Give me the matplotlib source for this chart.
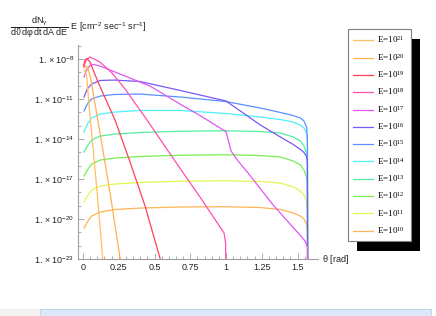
import numpy as np
import matplotlib
matplotlib.use('Agg')
import matplotlib.pyplot as plt
from matplotlib.patches import Rectangle
from matplotlib.font_manager import FontProperties
from matplotlib.ticker import FixedLocator, FixedFormatter, NullFormatter

plt.rcParams['font.family'] = ['Liberation Sans', 'DejaVu Sans']
plt.rcParams['mathtext.fontset'] = 'custom'
plt.rcParams['mathtext.rm'] = 'Liberation Sans'
plt.rcParams['mathtext.it'] = 'Liberation Sans:italic'
plt.rcParams['mathtext.default'] = 'regular'

# log10 of the flux; theta in rad
theta_lo = [0.007, 0.03, 0.06, 0.12, 0.22, 0.4, 0.68, 1.0, 1.24, 1.38, 1.47,
            1.52, 1.545, 1.563, 1.569, 1.5707]
lf_e10 = [-20.68, -20.23, -19.78, -19.48, -19.29, -19.18, -19.10, -19.08, -19.14,
          -19.29, -19.55, -19.78, -20.0, -20.38, -20.9, -26]
lf_e11 = [-18.73, -18.28, -17.83, -17.53, -17.38, -17.26, -17.17, -17.13, -17.19,
          -17.3, -17.6, -17.9, -18.2, -18.65, -19.33, -26]
lf_e12 = [-16.78, -16.33, -15.88, -15.58, -15.43, -15.31, -15.22, -15.18, -15.24,
          -15.35, -15.65, -15.95, -16.33, -16.85, -17.53, -26]
lf_e13 = [-14.98, -14.53, -14.08, -13.78, -13.63, -13.51, -13.42, -13.38, -13.44,
          -13.55, -13.85, -14.15, -14.53, -15.05, -15.8, -26]
lf_e14 = [-13.48, -12.88, -12.43, -12.13, -11.98, -11.86, -11.86, -12.09, -12.35,
          -12.54, -12.73, -12.95, -13.18, -13.55, -14.23, -26]
lf_e15 = [-11.9, -11.38, -11.0, -10.78, -10.66, -10.63, -10.85, -11.19, -11.68,
          -12.01, -12.24, -12.43, -12.65, -13.1, -13.93, -26]

theta_e16 = [0.007, 0.03, 0.06, 0.12, 0.22, 0.4, 0.68, 1.0, 1.1, 1.24, 1.38, 1.47,
             1.52, 1.545, 1.563, 1.569, 1.5707]
lf_e16 = [-10.85, -10.25, -9.88, -9.61, -9.58, -9.69, -10.36, -11.15, -11.9, -12.95,
          -13.85, -14.41, -14.79, -15.01, -15.31, -15.73, -26]

theta_e17 = [0.007, 0.028, 0.049, 0.077, 0.119, 0.259, 0.469, 0.678, 0.818, 1.0,
             1.035, 1.084, 1.154, 1.329, 1.448, 1.517, 1.552, 1.570, 1.5707]
lf_e17 = [-9.35, -8.75, -8.49, -8.41, -8.53, -9.13, -10.03, -11.38, -12.24, -13.45,
          -14.9, -15.65, -16.55, -18.95, -20.38, -21.2, -21.65, -22.1, -26]

theta_e18 = [0.007, 0.021, 0.049, 0.119, 0.203, 0.294, 0.448, 0.629, 0.818, 0.986,
             0.997, 1.0]
lf_e18 = [-8.53, -8.08, -7.85, -8.23, -9.05, -10.25, -12.58, -15.43, -18.35, -21.05,
          -21.8, -26]

theta_e19 = [0.0035, 0.014, 0.028, 0.049, 0.105, 0.224, 0.329, 0.434, 0.538, 0.552]
lf_e19 = [-8.53, -8.08, -7.96, -8.23, -9.73, -12.58, -15.73, -19.03, -22.93, -23.5]

theta_e20 = [0.007, 0.021, 0.035, 0.056, 0.084, 0.133, 0.189, 0.259, 0.27]
lf_e20 = [-8.68, -8.53, -8.68, -9.58, -11.38, -14.45, -18.05, -22.93, -23.53]

theta_e21 = [0.007, 0.0175, 0.028, 0.042, 0.063, 0.091, 0.112, 0.133, 0.138]
lf_e21 = [-8.9, -8.83, -9.58, -11.45, -13.85, -17.08, -19.63, -22.33, -23.1]

exponents = [10, 11, 12, 13, 14, 15, 16, 17, 18, 19, 20, 21]
curves = [(theta_lo, lf_e10), (theta_lo, lf_e11), (theta_lo, lf_e12),
          (theta_lo, lf_e13), (theta_lo, lf_e14), (theta_lo, lf_e15),
          (theta_e16, lf_e16), (theta_e17, lf_e17), (theta_e18, lf_e18),
          (theta_e19, lf_e19), (theta_e20, lf_e20), (theta_e21, lf_e21)]
colors = ['#ffb458', '#e6f550', '#78f050', '#50f09a', '#50f0f8', '#5a90ff',
          '#7858f8', '#e058f0', '#ff50b0', '#ff4058', '#ffb050', '#ffbe60']

fig = plt.figure(figsize=(4.36, 3.16), dpi=100)
ax = fig.add_axes([78 / 436, 1 - 259 / 316, (318 - 78) / 436, (259 - 45) / 316])

lines = {}
for exp_, (th, lf), c in zip(exponents, curves, colors):
    ln, = ax.plot(th, np.power(10.0, lf), color=c, lw=0.9,
                  label='E=10$^{%d}$' % exp_)
    lines[exp_] = ln

ax.set_yscale('log')
ax.set_xlim(-0.035, 1.643)
ax.set_ylim(1e-23, 10 ** -6.95)

for s in ['top', 'right']:
    ax.spines[s].set_visible(False)
for s in ['left', 'bottom']:
    ax.spines[s].set_color('#a0a0a0')
    ax.spines[s].set_linewidth(0.8)

xt = [0, 0.25, 0.5, 0.75, 1, 1.25, 1.5]
ax.xaxis.set_major_locator(FixedLocator(xt))
ax.xaxis.set_major_formatter(FixedFormatter(['0', '0.25', '0.5', '0.75', '1', '1.25', '1.5']))
ax.xaxis.set_minor_locator(FixedLocator(np.arange(0, 1.6, 0.05)))
yt = [1e-23, 1e-20, 1e-17, 1e-14, 1e-11, 1e-8]
ax.yaxis.set_major_locator(FixedLocator(yt))
ax.yaxis.set_major_formatter(FixedFormatter(
    [r'$1.\times10^{-23}$', r'$1.\times10^{-20}$', r'$1.\times10^{-17}$',
     r'$1.\times10^{-14}$', r'$1.\times10^{-11}$', r'$1.\times10^{-8}$']))
ax.yaxis.set_minor_locator(FixedLocator([10.0 ** k for k in range(-23, -6)]))
ax.yaxis.set_minor_formatter(NullFormatter())
ax.tick_params(which='both', direction='in', color='#a0a0a0', labelsize=6.5,
               labelcolor='#222222', width=0.6)
ax.tick_params(which='major', length=4, pad=3)
ax.tick_params(which='minor', length=2)

ax.text(1.015, 0.0, r'$\theta$ [rad]', transform=ax.transAxes, fontsize=6.5,
        ha='left', va='center', color='#222222')

fig.text(10 / 436, 1 - 27 / 316,
         r'$\dfrac{dN_\gamma}{d\vartheta\, d\varphi\, dt\;dA\;dE}$' + ' E [cm$^{-2}$ sec$^{-1}$ sr$^{-1}$]',
         fontsize=6.5, ha='left', va='center', color='#222222')

handles = [lines[e] for e in exponents[::-1]]
leg = fig.legend(handles, [h.get_label() for h in handles], loc='upper left',
                 bbox_to_anchor=(348 / 436, 1 - 29 / 316),
                 prop=FontProperties(family='Liberation Serif', size=6.5,
                                     math_fontfamily='stix'),
                 frameon=True, fancybox=False, edgecolor='#808080', framealpha=1,
                 labelspacing=0.7, handlelength=2.2, handletextpad=0.45,
                 borderpad=0.6, borderaxespad=0)
leg.get_frame().set_linewidth(0.8)
leg.set_zorder(6)

fig.canvas.draw()
bb = leg.get_window_extent()
W, H = fig.bbox.width, fig.bbox.height
fig.patches.append(Rectangle(((bb.x0 + 9) / W, (bb.y0 - 10) / H), bb.width / W,
                             bb.height / H, transform=fig.transFigure,
                             facecolor='black', edgecolor='none', zorder=5))

# window strip at the bottom of the screenshot
fig.patches.append(Rectangle((0, 0), 40 / 436, 7 / 316, transform=fig.transFigure,
                             facecolor='#f1f1ee', edgecolor='none', zorder=1))
fig.patches.append(Rectangle((40 / 436, 0), 391 / 436, 7 / 316, transform=fig.transFigure,
                             facecolor='#dce7f9', edgecolor='#bcd0ee', lw=0.6, zorder=1))

fig.savefig('out.png', dpi=100)
